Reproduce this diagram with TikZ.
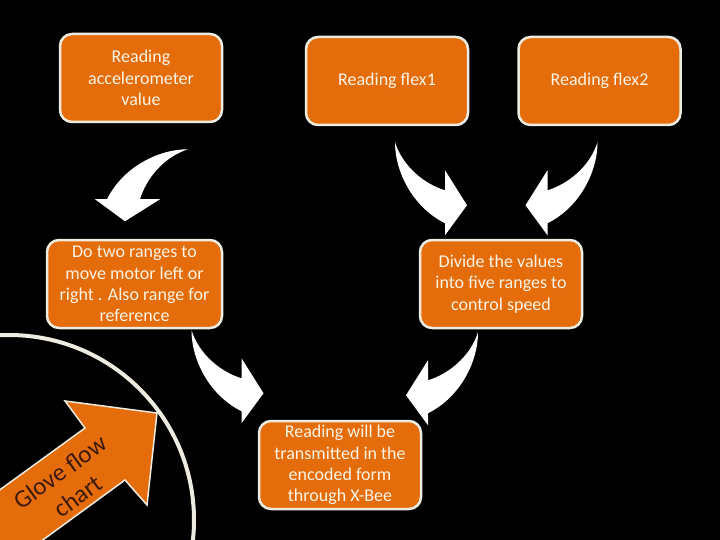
\documentclass[tikz,border=0pt]{standalone}
\usepackage{fontspec}
\setmainfont{Carlito}
\usepackage{tikz}
\usetikzlibrary{positioning, calc}
\definecolor{gloveorange}{HTML}{E46C0A}
\definecolor{glovecream}{HTML}{EEECE1}
\definecolor{glovetext}{HTML}{FBF4E4}
\definecolor{glovedark}{HTML}{3F1A0A}

\tikzset{
    bendarrow/.pic={
        \fill[white] (0,0) .. controls (0,30) and (18,65) .. (50,81) -- (50,93) -- (72,63)
            -- (50,28) -- (50,48) .. controls (30,42) and (8,25) .. (0,0) -- cycle;
    }
}

\begin{document}
\begin{tikzpicture}[
    x=1pt, y=-1pt,
    flowbox/.style={rectangle, draw=glovecream, fill=gloveorange, line width=2.5pt, rounded corners=12pt, text=glovetext, align=center, minimum width=162, minimum height=88, inner sep=2pt, font=\fontsize{18}{21.3}\selectfont},
    gloveline/.style={draw=glovecream, line width=4pt}
]
\clip (0,0) rectangle (720,540);
\fill[black] (0,0) rectangle (720,540);

% big arc and title arrow
\draw[gloveline] (9,520) circle[radius=185];
\fill[gloveorange, draw=glovecream, line width=1.5pt] (157,413) -- (65,401) -- (85,428) -- (-50,526) -- (-45,604) -- (125,480) -- (147,505) -- cycle;
\node[rotate=36, text=glovedark, align=center, font=\fontsize{25}{30}\selectfont] (title) at (69,484) {Glove flow\\chart};

% boxes
\node[flowbox] (accel) at (141,78) {Reading\\accelerometer\\value};
\node[flowbox] (flexa) at (387,81) {Reading flex1};
\node[flowbox, right=48 of flexa] (flexb) {Reading flex2};
\node[flowbox, minimum width=175] (ranges) at (134.5,284) {Do two ranges to\\move motor left or\\right . Also range for\\reference};
\node[flowbox] (speed) at (501,284) {Divide the values\\into five ranges to\\control speed};
\node[flowbox] (xbee) at (340,465) {Reading will be\\transmitted in the\\encoded form\\through X-Bee};

% curved arrows
\pic[rotate=-90] at ($(accel.south)+(47,26)$) {bendarrow};
\pic at ($(flexa.south)+(8,16)$) {bendarrow};
\pic[xscale=-1] at ($(flexb.south)+(-2,16)$) {bendarrow};
\pic at ($(ranges.south)+(57,1)$) {bendarrow};
\pic[xscale=-1] at ($(speed.south)+(-23,3)$) {bendarrow};

\end{tikzpicture}
\end{document}
